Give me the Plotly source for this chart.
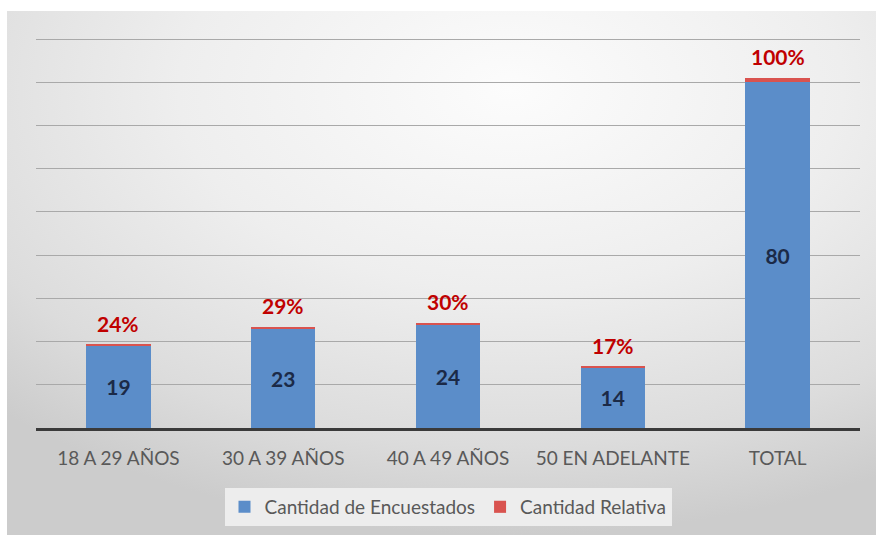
import base64
import plotly.graph_objects as go

categories = ["18 A 29 AÑOS", "30 A 39 AÑOS", "40 A 49 AÑOS", "50 EN ADELANTE", "TOTAL"]
encuestados = [19, 23, 24, 14, 80]
relativa = [0.24, 0.29, 0.30, 0.17, 1.00]

W, H = 876, 535
ML, MR, MT, MB = 36, 16, 37, 107
PW, PH = W - ML - MR, H - MT - MB

FONT = "Lato, 'Open Sans', sans-serif"

svg = (
    '<svg xmlns="http://www.w3.org/2000/svg" width="869" height="524" viewBox="0 0 869 524" preserveAspectRatio="none">'
    '<defs><radialGradient id="g" cx="0.58" cy="0.15" r="0.85" fx="0.58" fy="0.15">'
    '<stop offset="0" stop-color="#fcfcfc"/>'
    '<stop offset="0.45" stop-color="#eeeeee"/>'
    '<stop offset="0.8" stop-color="#dcdcdc"/>'
    '<stop offset="1" stop-color="#cccccc"/>'
    '</radialGradient></defs>'
    '<rect x="0" y="0" width="869" height="524" fill="url(#g)"/>'
    '</svg>'
)
src = "data:image/svg+xml;base64," + base64.b64encode(svg.encode()).decode()

fig = go.Figure()
fig.add_trace(go.Bar(
    x=categories, y=encuestados, name="Cantidad de Encuestados",
    marker=dict(color="#5b8dc9", line=dict(width=0)),
    text=[str(v) for v in encuestados], textposition="inside",
    insidetextanchor="middle",
    textfont=dict(family=FONT, size=21, color="#1b2a47", weight="bold"),
))
fig.add_trace(go.Bar(
    x=categories, y=relativa, name="Cantidad Relativa",
    marker=dict(color="#d9534f", line=dict(width=0)),
    hoverinfo="skip",
))

for c, e, r in zip(categories, encuestados, relativa):
    fig.add_annotation(
        x=c, y=e + r, text=f"{round(r * 100)}%", showarrow=False,
        yanchor="bottom", yshift=7,
        font=dict(family=FONT, size=21, color="#c00000", weight="bold"),
    )

x0 = (7 - ML) / PW
y_top = (H - MB - 11) / PH
fig.add_layout_image(dict(
    source=src, xref="paper", yref="paper", x=x0, y=y_top,
    sizex=(W - 7) / PW, sizey=(H - 11) / PH, sizing="stretch",
    xanchor="left", yanchor="top", layer="below",
))

fig.update_layout(
    width=W, height=H,
    margin=dict(l=ML, r=MR, t=MT, b=MB, autoexpand=False),
    paper_bgcolor="white", plot_bgcolor="rgba(0,0,0,0)",
    barmode="stack", bargap=0.61,
    showlegend=True,
    legend=dict(
        orientation="h", x=0.5, xanchor="center", y=(H - MB - 507) / PH,
        yanchor="middle", bgcolor="#ededed", traceorder="normal",
        font=dict(family=FONT, size=19, color="#595959"),
        itemsizing="constant",
    ),
    font=dict(family=FONT),
)
fig.update_xaxes(
    showline=True, linecolor="#3a3a3a", linewidth=2.5,
    showgrid=False, ticks="", ticklabelstandoff=11,
    tickfont=dict(family=FONT, size=19, color="#595959"),
)
fig.update_yaxes(
    range=[0, 90.5], showticklabels=False, showgrid=True,
    gridcolor="#a9a9a9", gridwidth=1, zeroline=False,
    tick0=0, dtick=10,
)

fig.write_html(
    "out.html",
    config={"displayModeBar": False},
    post_script="document.body.style.margin='0';document.body.style.padding='0';",
)
